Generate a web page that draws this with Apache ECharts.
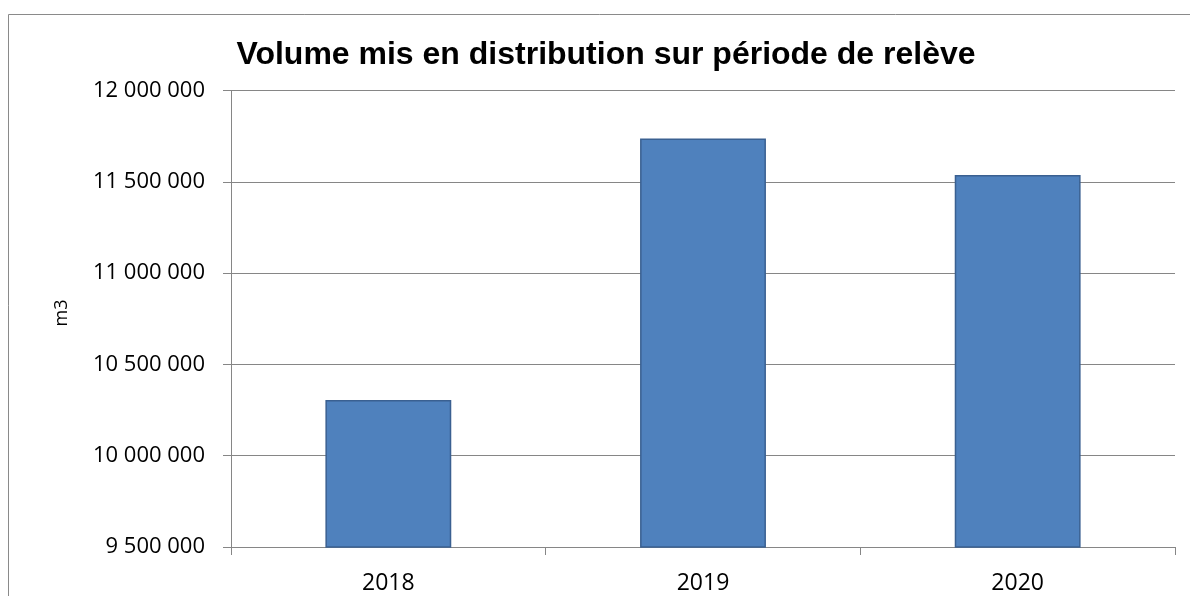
<!DOCTYPE html>
<html>
<head>
<meta charset="utf-8">
<script src="https://cdn.jsdelivr.net/npm/echarts@6/dist/echarts.min.js"></script>
<style>html,body{margin:0;padding:0;background:#fff;}#c{width:1190px;height:596px;}</style>
</head>
<body>
<div id="c"></div>
<script>
const titleText = 'Volume mis en distribution sur période de relève';
const yAxisName = 'm3';
const categories = ['2018', '2019', '2020'];
const volumes = [10305000, 11737000, 11537000];
const yMin = 9500000, yMax = 12000000, yStep = 500000;

function fmt(v) {
  return String(Math.round(v)).replace(/\B(?=(\d{3})+(?!\d))/g, ' ');
}

const chart = echarts.init(document.getElementById('c'), null, {renderer: 'canvas'});
const axisColor = '#868686';
const labelFont = '"Open Sans", "Liberation Sans", sans-serif';
chart.setOption({
  animation: false,
  backgroundColor: '#fff',
  grid: {left: 231, right: 15, top: 90.5, bottom: 49, containLabel: false, outerBoundsMode: 'none'},
  graphic: [
    {type: 'rect', shape: {x: 8.5, y: 14.5, width: 1196, height: 600},
     style: {fill: 'none', stroke: '#8a8a8a', lineWidth: 1}, silent: true},
    {type: 'text', x: 606, y: 55,
     style: {text: titleText, font: 'bold 32px "Liberation Sans", Arial, sans-serif',
             fill: '#000', textAlign: 'center', textVerticalAlign: 'middle'}},
    {type: 'text', x: 62, y: 313, rotation: Math.PI / 2,
     style: {text: yAxisName, font: '18px ' + labelFont, fill: '#000',
             textAlign: 'center', textVerticalAlign: 'middle'}}
  ],
  xAxis: {
    type: 'category',
    data: categories,
    axisLine: {show: true, lineStyle: {color: axisColor, width: 1}},
    axisTick: {show: true, alignWithLabel: false, length: 8, lineStyle: {color: axisColor, width: 1}},
    axisLabel: {color: '#000', fontSize: 23, fontFamily: labelFont, margin: 25},
    splitLine: {show: false}
  },
  yAxis: {
    type: 'value',
    min: yMin, max: yMax, interval: yStep,
    axisLine: {show: true, lineStyle: {color: axisColor, width: 1}},
    axisTick: {show: true, length: 8, lineStyle: {color: axisColor, width: 1}},
    axisLabel: {color: '#000', fontSize: 22, fontFamily: labelFont, margin: 26, formatter: fmt},
    splitLine: {show: true, lineStyle: {color: axisColor, width: 1}}
  },
  series: [{
    type: 'bar',
    data: volumes,
    barWidth: '40%',
    itemStyle: {color: '#4F81BD', borderColor: '#3A6091', borderWidth: 1.5}
  }]
});
</script>
</body>
</html>
